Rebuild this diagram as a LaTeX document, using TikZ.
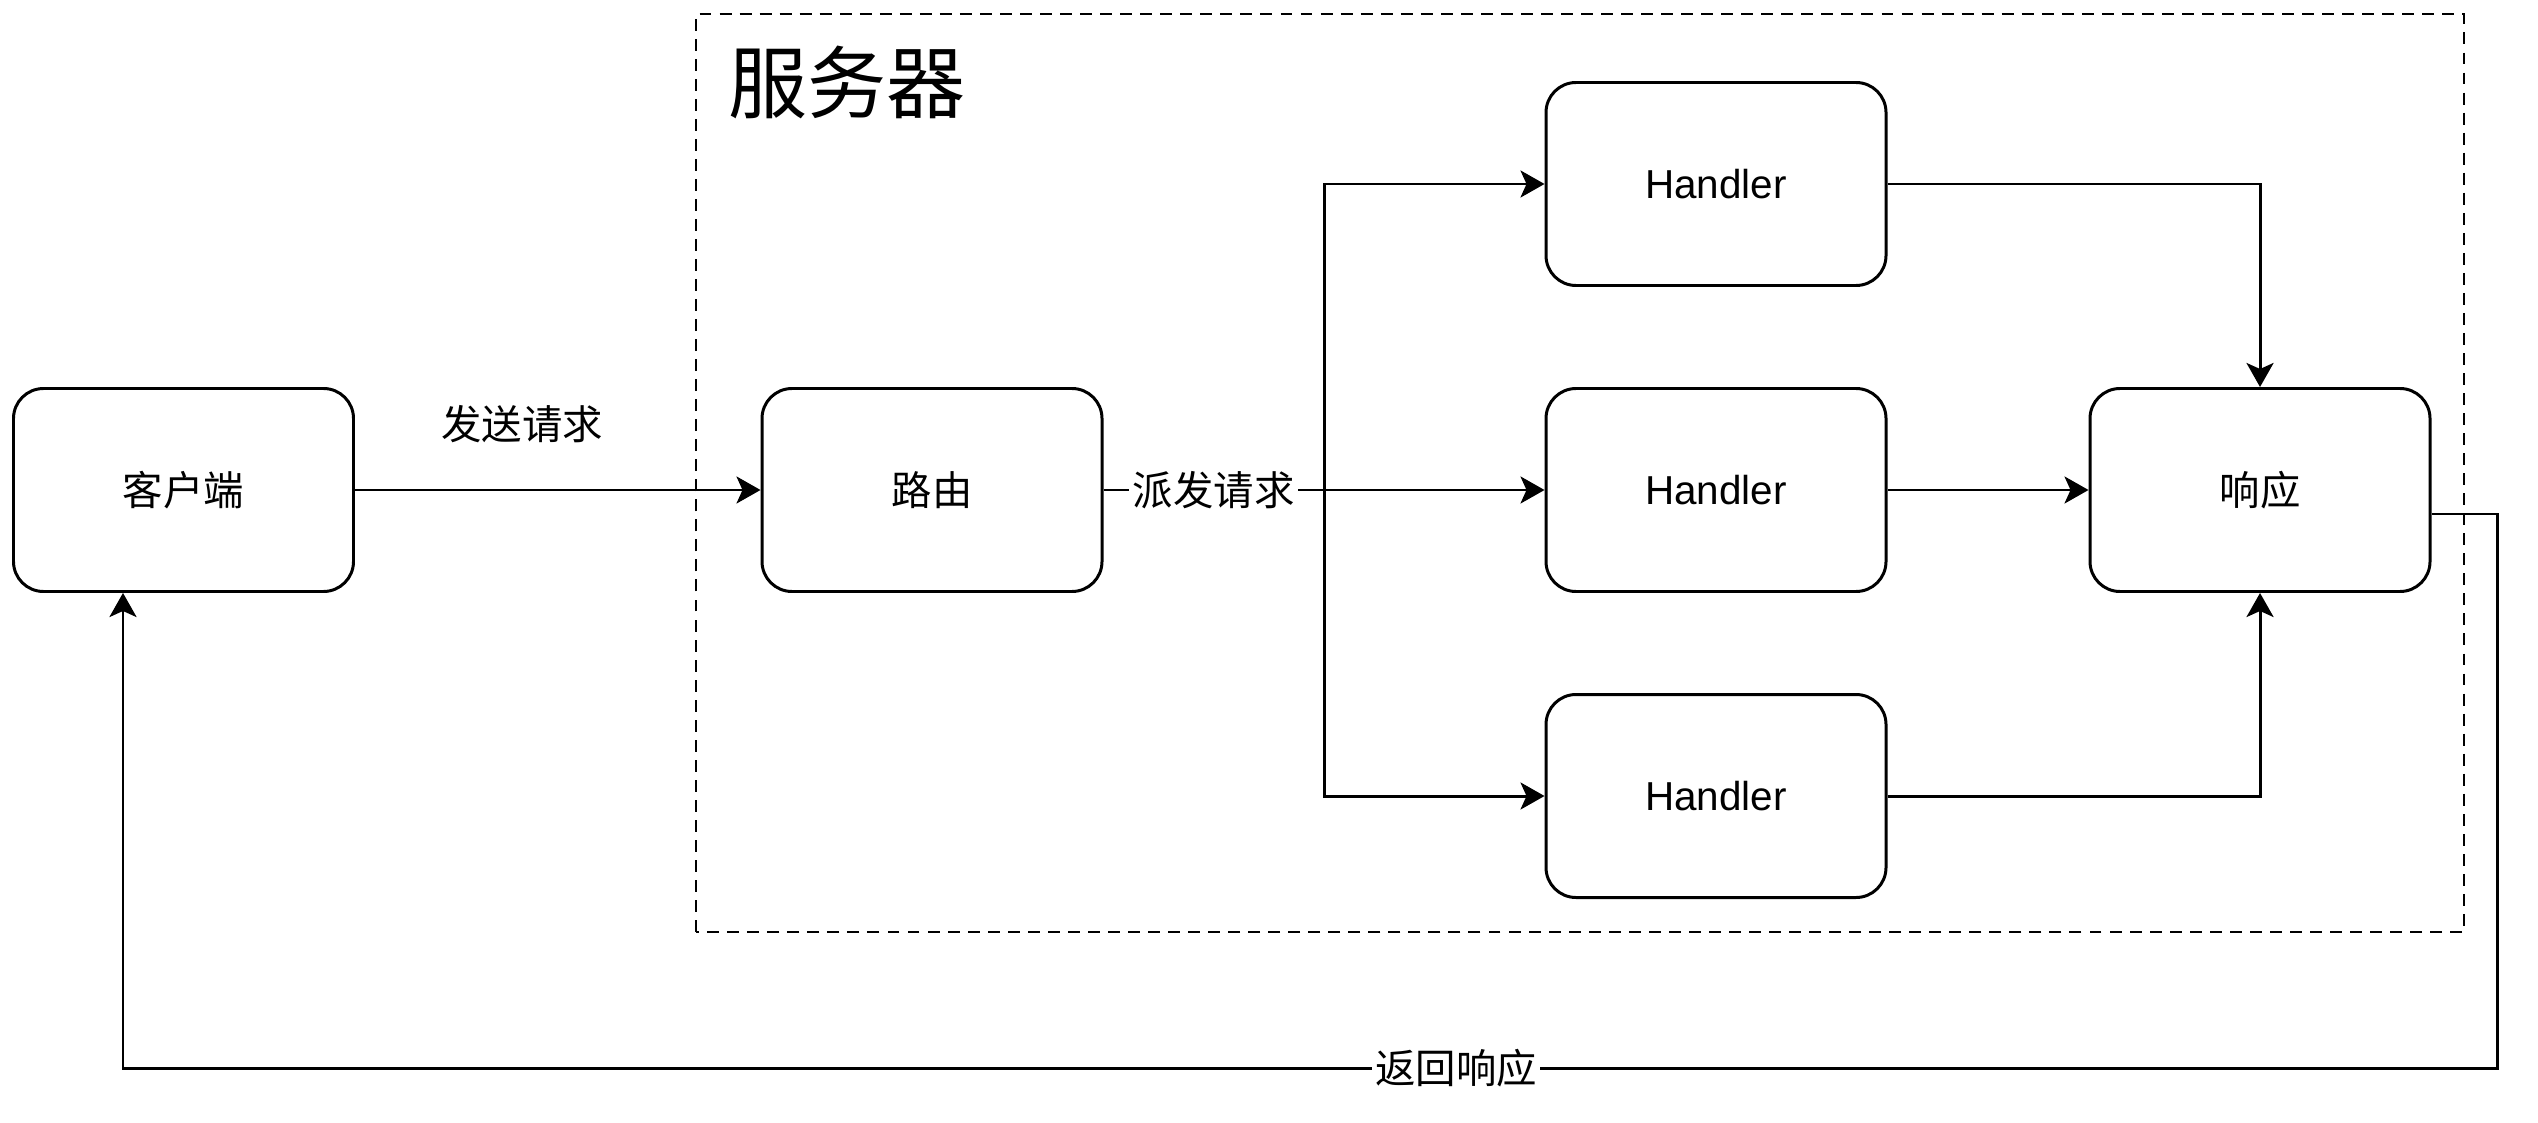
\documentclass[tikz,border=0pt]{standalone}
\usepackage{fontspec}
\setmainfont{Liberation Sans}
\newfontfamily\cjk{Noto Sans CJK SC}
\usetikzlibrary{arrows.meta,calc}

\tikzset{
  blk/.style={draw, rounded corners=0.3cm, minimum width=3.4cm, minimum height=2.03cm,
    inner sep=0pt, font=\fontsize{11.5}{14}\selectfont},
  lbl/.style={font=\cjk\fontsize{11.5}{14}\selectfont, inner sep=1pt},
  flow/.style={->, >={Stealth[length=2.4mm,width=2.7mm,inset=0.6mm]}},
}

\begin{document}
\begin{tikzpicture}[line width=0.85pt]
\useasboundingbox (0,0) rectangle (25.38,11.22);

	% server frame
	\draw[dash pattern=on 3.4pt off 2.3pt, line width=0.7pt] (6.96,1.90) rectangle (24.64,11.08);
	\node[anchor=west, inner sep=0pt, font=\cjk\fontsize{22.5}{26}\selectfont] (srv) at (7.27,10.40) {服务器};

	\node[blk] (client) at (1.835,6.32) {\cjk 客户端};
	\node[blk] (router) at (9.32,6.32) {\cjk 路由};
	\node[blk] (h1) at (17.16,9.38) {Handler};
	\node[blk] (h2) at (17.16,6.32) {Handler};
	\node[blk] (h3) at (17.16,3.26) {Handler};
	\node[blk] (resp) at (22.60,6.32) {\cjk 响应};

	% request
	\draw[flow] (client) -- (router);
	\node[lbl] (send) at (5.22,6.98) {发送请求};

	% dispatch
	\coordinate (fork) at (13.24,6.32);
	\draw (router) -- node[lbl, fill=white] (dispatch) {派发请求} (fork);
	\draw[flow] (fork) |- (h1);
	\draw[flow] (fork) -- (h2);
	\draw[flow] (fork) |- (h3);

	% collect
	\draw[flow] (h1) -| (resp);
	\draw[flow] (h2) -- (resp);
	\draw[flow] (h3) -| (resp);

	% reply
	\coordinate (out) at ($(resp.east)+(0,-0.24)$);
	\coordinate (back) at (24.97,0.54);
	\coordinate (ret) at (1.23,0.54);
	\draw[flow] (out) -| (back) -- (ret) -- (ret |- client.south);
	\node[lbl, fill=white] (reply) at (14.56,0.54) {返回响应};

\end{tikzpicture}
\end{document}
